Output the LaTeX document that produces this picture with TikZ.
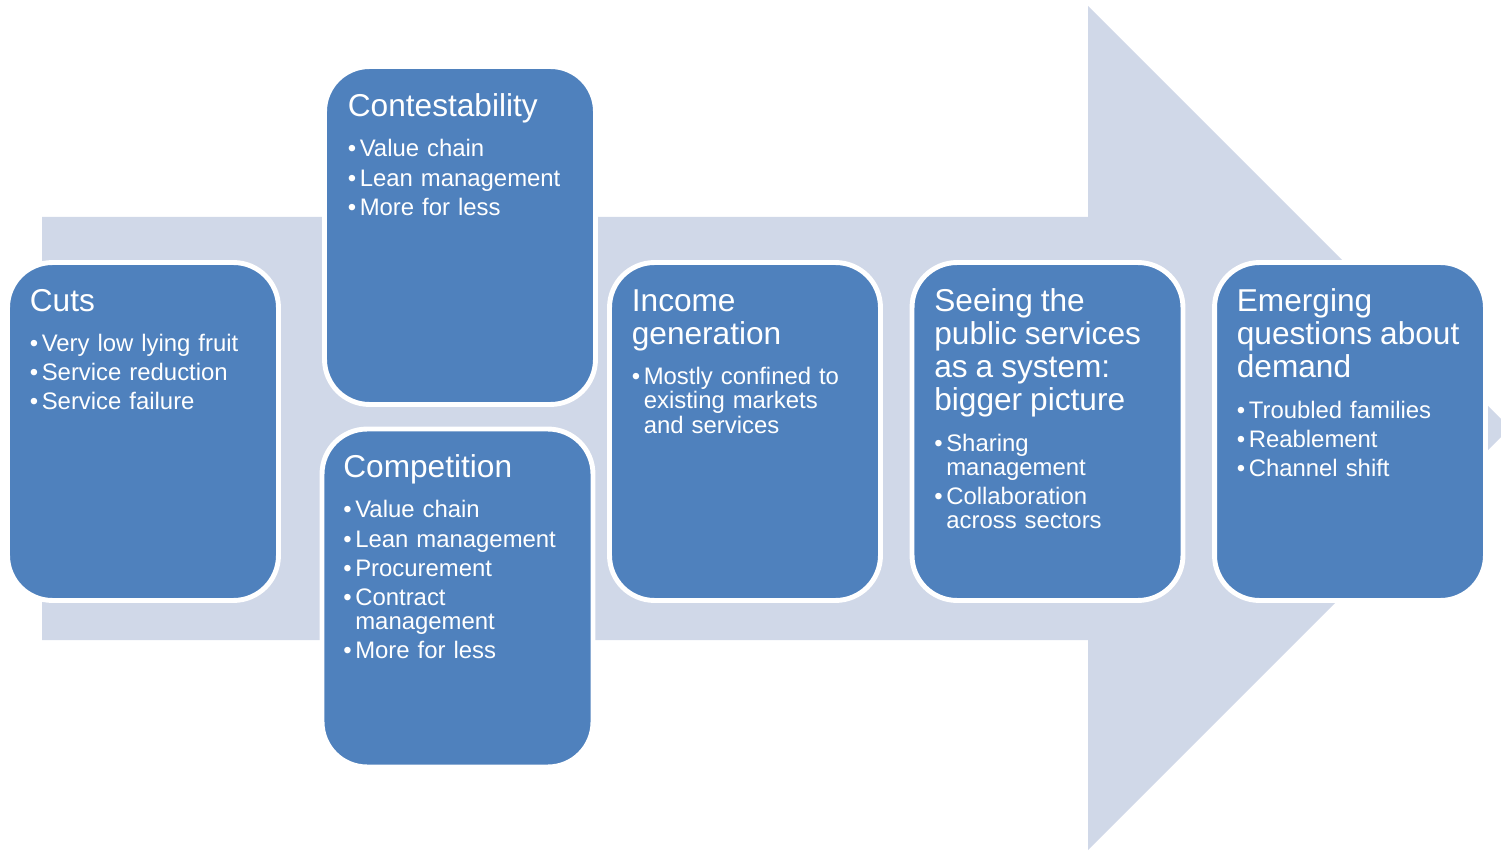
\documentclass[tikz,border=0pt]{standalone}
\usepackage{fontspec}
\setmainfont{Liberation Sans}
\usepackage{tikz}
\usetikzlibrary{positioning}
\definecolor{boxblue}{HTML}{4F81BD}
\definecolor{arrowgrey}{HTML}{D0D8E8}
\newcommand{\ttl}[1]{{\fontsize{18pt}{18.95pt}\selectfont #1\par}\vspace{6.4pt}}
\newcommand{\bul}[1]{\par\vspace{2.8pt}\noindent\hangindent=6.8pt\hangafter=1\makebox[6.8pt][l]{\textbullet}{\let\\\newline #1}\par}

\begin{document}
\begin{tikzpicture}[x=0.02cm,y=-0.02cm]
\tikzstyle{every node}=[font=\fontsize{13.6pt}{13.8pt}\selectfont]
\tikzstyle{stage}=[draw=white, line width=2.8pt, fill=boxblue, rounded corners=0.9cm, minimum width=5.42cm, minimum height=6.76cm, outer sep=0pt, inner sep=0pt]
\tikzstyle{stagetext}=[text=white, text width=5cm, inner sep=0pt]
\useasboundingbox (0,0) rectangle (1501,851);
\clip (0,0) rectangle (1501,851);
% big arrow behind the stages
\fill[arrowgrey] (42,217) -- (1088,217) -- (1088,6) -- (1510,428) -- (1088,850) -- (1088,640) -- (42,640) -- cycle;
% the stages
\node[stage] (cuts) at (143,431.5) {};
\node[stage] (contest) at (460,235.5) {};
\node[stage] (compet) at (457.5,598) {};
\node[stage] (income) at (745,431.5) {};
\node[stage] (seeing) at (1047.5,431.5) {};
\node[stage] (emerging) at (1350,431.5) {};
% texts, first baseline from the corner of each stage
\node[stagetext, below right=0.97cm and 0.44cm of cuts.north west, anchor=base west] (cutstxt)
  {\ttl{Cuts}\bul{Very low lying fruit}\bul{Service reduction}\bul{Service failure}};
\node[stagetext, below right=1cm and 0.46cm of contest.north west, anchor=base west] (contesttxt)
  {\ttl{Contestability}\bul{Value chain}\bul{Lean management}\bul{More for less}};
\node[stagetext, below right=0.97cm and 0.42cm of compet.north west, anchor=base west] (compettxt)
  {\ttl{Competition}\bul{Value chain}\bul{Lean management}\bul{Procurement}\bul{Contract\\management}\bul{More for less}};
\node[stagetext, below right=0.97cm and 0.44cm of income.north west, anchor=base west] (incometxt)
  {\ttl{Income\\generation}\bul{Mostly confined to\\existing markets\\and services}};
\node[stagetext, below right=0.97cm and 0.44cm of seeing.north west, anchor=base west] (seeingtxt)
  {\ttl{Seeing the\\public services\\as a system:\\bigger picture}\bul{Sharing\\management}\bul{Collaboration\\across sectors}};
\node[stagetext, below right=0.97cm and 0.44cm of emerging.north west, anchor=base west] (emergingtxt)
  {\ttl{Emerging\\questions about\\demand}\bul{Troubled families}\bul{Reablement}\bul{Channel shift}};
\end{tikzpicture}
\end{document}
